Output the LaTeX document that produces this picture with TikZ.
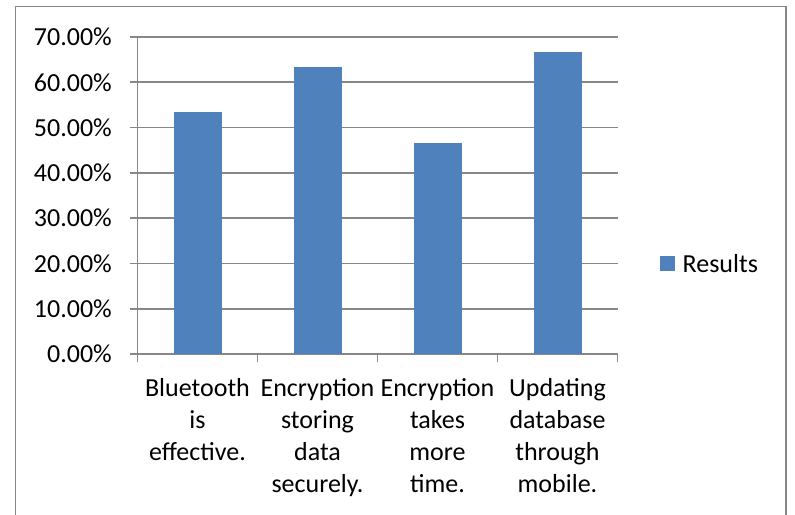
\documentclass[tikz,border=0pt]{standalone}
\usepackage{fontspec}
\setmainfont{Carlito}
\definecolor{barblue}{HTML}{4F81BD}
\definecolor{linegray}{HTML}{878787}
\begin{document}
\begin{tikzpicture}[x=1pt,y=-1pt,
  gridline/.style={draw=linegray,line width=1.6pt},
  axisline/.style={draw=linegray,line width=1.6pt},
  framelin/.style={draw=linegray,line width=1.8pt},
  barbox/.style={fill=barblue,draw=none},
  ticklabel/.style={anchor=east,inner sep=0pt,font=\fontsize{26}{32}\selectfont},
  catlabel/.style={anchor=north,inner sep=0pt,align=center,font=\fontsize{26}{32}\selectfont},
  legtext/.style={anchor=west,inner sep=0pt,font=\fontsize{26}{32}\selectfont}]
\useasboundingbox (0,0) rectangle (795,514);
% outer frame (bottom edge cut off)
\draw[framelin] (15.5,516) -- (15.5,6.5) -- (786,6.5) -- (786,516);
% gridlines and y labels
\foreach \v/\t in {0/0.00,1/10.00,2/20.00,3/30.00,4/40.00,5/50.00,6/60.00,7/70.00}{
  \draw[gridline] (130,{354-\v*45.2857}) -- (617.5,{354-\v*45.2857});
  \node[ticklabel] (yl\v) at (112,{354-\v*45.2857}) {\t\%};
}
% axes
\draw[axisline] (137.5,37) -- (137.5,354);
\draw[axisline] (137.5,354) -- (617.5,354);
\foreach \i in {0,...,4}{
  \draw[axisline] ({137.5+\i*120},354) -- ({137.5+\i*120},362);
}
% bars
\foreach \i/\val in {0/53.33,1/63.33,2/46.67,3/66.67}{
  \fill[barbox] ({173.5+\i*120},354) rectangle ({221.5+\i*120},{354-\val*4.52857});
}
% category labels
\node[catlabel] (c1) at (197.5,378) {Bluetooth\\is\\effective.};
\node[catlabel] (c2) at (317.5,378) {Encryption\\storing\\data\\securely.};
\node[catlabel] (c3) at (437.5,378) {Encryption\\takes\\more\\time.};
\node[catlabel] (c4) at (557.5,378) {Updating\\database\\through\\mobile.};
% legend
\node[fill=barblue,minimum size=15pt,inner sep=0pt] (lkey) at (667.5,263.5) {};
\node[legtext] (ltext) at (682.5,263.5) {Results};
\end{tikzpicture}
\end{document}
